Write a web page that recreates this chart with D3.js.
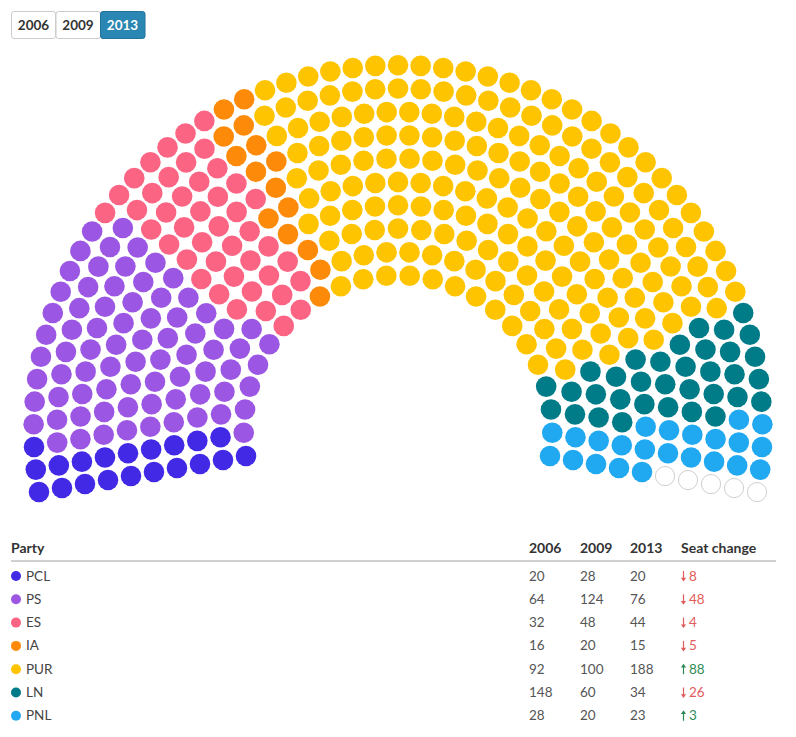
<!DOCTYPE html>
<html>
<head>
<meta charset="utf-8">
<script src="https://cdn.jsdelivr.net/npm/d3@7"></script>
<style>
  html, body { margin: 0; padding: 0; background: #fff; }
  svg { display: block; font-family: "Lato", "Noto Sans", sans-serif; }
  .btn { cursor: pointer; }
</style>
</head>
<body>
<svg id="chart" width="796" height="737"></svg>
<script>
// ---- data ----
const parties = ["PCL", "PS", "ES", "IA", "PUR", "LN", "PNL"];
const colors  = ["#4129e6", "#9b57e3", "#fb6583", "#fd8a08", "#ffc400", "#007b88", "#20a9f0"];
const years   = ["2006", "2009", "2013"];
const seats2006 = [20, 64, 32, 16, 92, 148, 28];
const seats2009 = [28, 124, 48, 20, 100, 60, 20];
const seats2013 = [20, 76, 44, 15, 188, 34, 23];
const seatsByYear = { "2006": seats2006, "2009": seats2009, "2013": seats2013 };
const totalSeats = 405;
const rowCount = 10;

let selectedYear = "2013";

const svg = d3.select("#chart");

// ---- hemicycle geometry ----
const cx = 398, cy = 429.6;
const rScale = d3.scaleLinear().domain([0, rowCount - 1]).range([154.3, 364.4]);
const overhang = 9.87; // degrees below horizontal at each end
const angleScale = d3.scaleLinear().domain([0, 1]).range([180 + overhang, -overhang]);

// seats per row proportional to radius
const radii = d3.range(rowCount).map(i => rScale(i));
const sumR = d3.sum(radii);
let perRow = radii.map(r => Math.round(totalSeats * r / sumR));
let diff = totalSeats - d3.sum(perRow);
let k = rowCount - 1;
while (diff !== 0) { perRow[k] += diff > 0 ? 1 : -1; diff += diff > 0 ? -1 : 1; k = (k + rowCount - 1) % rowCount; }

const seatPositions = [];
perRow.forEach((n, row) => {
  for (let j = 0; j < n; j++) {
    const t = j / (n - 1);
    const phi = angleScale(t) * Math.PI / 180;
    const r = rScale(row);
    seatPositions.push({ t, row, x: cx + r * Math.cos(phi), y: cy - r * Math.sin(phi) });
  }
});
seatPositions.sort((a, b) => (a.t - b.t) || (a.row - b.row));

const seatG = svg.append("g");

function seatData(year) {
  const vals = seatsByYear[year];
  const owners = [];
  vals.forEach((v, i) => { for (let s = 0; s < v; s++) owners.push(i); });
  return seatPositions.map((p, i) => Object.assign({}, p, { party: i < owners.length ? owners[i] : -1 }));
}

function drawSeats() {
  const data = seatData(selectedYear);
  seatG.selectAll("circle")
    .data(data)
    .join("circle")
    .attr("cx", d => d.x)
    .attr("cy", d => d.y)
    .attr("r", d => d.party < 0 ? 9.6 : 10.3)
    .attr("fill", d => d.party < 0 ? "#fff" : colors[d.party])
    .attr("stroke", d => d.party < 0 ? "#cfcfcf" : "none")
    .attr("stroke-width", 1);
}

// ---- year buttons ----
const btnX = d3.scaleOrdinal().domain(years).range([11, 55.5, 100]);
const btnW = 45;
const btnG = svg.append("g");

function drawButtons() {
  const b = btnG.selectAll("g.btn").data(years).join(enter => {
    const g = enter.append("g").attr("class", "btn");
    g.append("rect");
    g.append("text");
    return g;
  });
  b.attr("transform", d => `translate(${btnX(d)},11)`)
   .on("click", (e, d) => { selectedYear = d; update(); });
  b.select("rect")
    .attr("x", 0.5).attr("y", 0.5)
    .attr("width", (d, i) => i === 0 ? 44 : btnW - 0.5)
    .attr("height", 27)
    .attr("rx", 2.5)
    .attr("fill", d => d === selectedYear ? "#2a86b2" : "#fff")
    .attr("stroke", d => d === selectedYear ? "#22729a" : "#cccccc");
  b.select("text")
    .attr("x", 22.5)
    .attr("y", 19)
    .attr("text-anchor", "middle")
    .attr("font-size", 13.5)
    .attr("font-weight", 700)
    .attr("fill", d => d === selectedYear ? "#fff" : "#333")
    .text(d => d);
}

// ---- table ----
const tableG = svg.append("g");
const colX = { party: 11, y2006: 529, y2009: 580, y2013: 630, change: 681 };
const rowY = d3.scaleLinear().domain([0, 1]).range([576, 599.3]);

function drawTable() {
  tableG.selectAll("*").remove();
  const header = [["Party", colX.party], ["2006", colX.y2006], ["2009", colX.y2009], ["2013", colX.y2013], ["Seat change", colX.change]];
  tableG.selectAll("text.h").data(header).join("text")
    .attr("class", "h")
    .attr("x", d => d[1]).attr("y", 553)
    .attr("font-size", 14).attr("font-weight", 700).attr("fill", "#333")
    .text(d => d[0]);
  tableG.append("line")
    .attr("x1", 11).attr("x2", 776).attr("y1", 561).attr("y2", 561)
    .attr("stroke", "#a0a0a0").attr("stroke-width", 1);

  const rows = tableG.selectAll("g.row").data(parties).join("g")
    .attr("class", "row")
    .attr("transform", (d, i) => `translate(0,${rowY(i)})`);
  rows.append("circle").attr("cx", 16).attr("cy", 0).attr("r", 5).attr("fill", (d, i) => colors[i]);
  rows.append("text").attr("x", 26).attr("y", 4.5).attr("font-size", 13.5).attr("fill", "#444").text(d => d);
  const numCols = [[seats2006, colX.y2006], [seats2009, colX.y2009], [seats2013, colX.y2013]];
  numCols.forEach(([arr, x]) => {
    rows.append("text").attr("x", x).attr("y", 4.5).attr("font-size", 13.5).attr("fill", "#555")
      .text((d, i) => arr[i]);
  });
  rows.each(function(d, i) {
    const change = seats2013[i] - seats2009[i];
    const up = change > 0;
    const col = up ? "#2e8b57" : "#e25b5b";
    const g = d3.select(this);
    const ax = colX.change + 2.5;
    g.append("line").attr("x1", ax).attr("x2", ax)
      .attr("y1", up ? -2.5 : -5).attr("y2", up ? 5 : 2.5)
      .attr("stroke", col).attr("stroke-width", 1.2);
    g.append("path")
      .attr("d", up ? `M${ax - 2.6},-1.8 L${ax},-5.5 L${ax + 2.6},-1.8 Z` : `M${ax - 2.6},1.8 L${ax},5.5 L${ax + 2.6},1.8 Z`)
      .attr("fill", col);
    g.append("text").attr("x", colX.change + 8).attr("y", 4.5).attr("font-size", 13.5).attr("fill", col)
      .text(Math.abs(change));
  });
}

function update() { drawButtons(); drawSeats(); }
update();
drawTable();
</script>
</body>
</html>
